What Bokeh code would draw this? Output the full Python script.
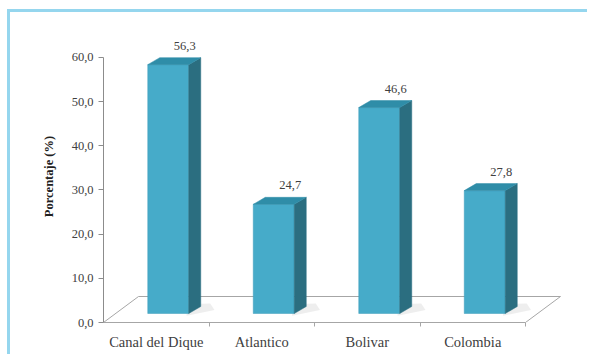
import numpy as np
from bokeh.plotting import figure
from bokeh.models import FixedTicker
from bokeh.embed import file_html
from bokeh.resources import INLINE
from bokeh.core.properties import value

# ---- data ----
categories = ["Canal del Dique", "Atlantico", "Bolivar", "Colombia"]
values = [56.3, 24.7, 46.6, 27.8]
value_labels = ["56,3", "24,7", "46,6", "27,8"]
y_ticks = [0, 10, 20, 30, 40, 50, 60]
y_tick_labels = ["0,0", "10,0", "20,0", "30,0", "40,0", "50,0", "60,0"]

# ---- 3D geometry (in data units) ----
PX_X = 105.5
PX_Y = 4.42
ox, oy = 12 / PX_X, 9 / PX_Y        # bar front offset into depth
bw = 41 / PX_X                        # bar width
ddx, ddy = 12 / PX_X, 7 / PX_Y        # bar depth
fdx, fdy = 35 / PX_X, 26 / PX_Y       # floor depth

FONT = "Liberation Serif"
TXT = "#404040"

n = len(categories)
centers = np.arange(1, n + 1, dtype=float)
vals = np.array(values)

p = figure(width=580, height=345, output_backend="svg", toolbar_location=None,
           x_range=(0.5, 0.5 + 472 / PX_X), y_range=(0, 292 / PX_Y),
           min_border_left=93, min_border_right=15, min_border_top=18, min_border_bottom=35)
p.styles = {"border-top": "3px solid #95D6EE", "border-left": "3px solid #95D6EE",
            "margin-left": "7px", "margin-top": "9px"}
p.background_fill_color = "white"
p.border_fill_color = "white"
p.outline_line_color = None
p.grid.visible = False

# floor
p.patch([0.5, 0.5 + n, 0.5 + n + fdx, 0.5 + fdx], [0, 0, fdy, fdy],
        fill_color="white", line_color="#A6A6A6", line_width=1)

left = centers - bw / 2 + ox
right = centers + bw / 2 + ox
bottom = np.full(n, oy)
top = oy + vals

# soft shadows
p.patches([[r - 0.02, r + ddx + 0.13, r + ddx + 0.09, r - 0.02] for r in right],
          [[oy - 0.5, oy + ddy * 0.5, oy + ddy + 0.7, oy + ddy + 0.5] for _ in right],
          fill_color="#C8C8C8", fill_alpha=0.3, line_color=None)

# front faces
p.quad(left=left, right=right, bottom=bottom, top=top,
       fill_color="#46ABC9", line_color="#3E9DBA", line_width=0.5)
# side faces
p.patches([[r, r + ddx, r + ddx, r] for r in right],
          [[oy, oy + ddy, t + ddy, t] for t in top],
          fill_color="#2B6E80", line_color="#2B6E80", line_width=0.5)
# top faces
p.patches([[l, r, r + ddx, l + ddx] for l, r in zip(left, right)],
          [[t, t, t + ddy, t + ddy] for t in top],
          fill_color="#2F8DA8", line_color="#2F8DA8", line_width=0.5)

# value labels
p.text(x=centers + 0.27, y=top + ddy, text=value_labels,
       text_align="center", text_baseline="bottom", y_offset=-8,
       text_font=value(FONT), text_font_size="12.5px", text_color=TXT)

# y axis
ya = p.yaxis[0]
ya.ticker = FixedTicker(ticks=y_ticks, minor_ticks=[])
ya.major_label_overrides = {t: s for t, s in zip(y_ticks, y_tick_labels)}
ya.bounds = (0, 60)
ya.axis_line_color = "#8C8C8C"
ya.major_tick_line_color = "#8C8C8C"
ya.major_tick_out = 5
ya.major_tick_in = 0
ya.major_label_standoff = 5
ya.major_label_text_font = FONT
ya.major_label_text_font_size = "12.5px"
ya.major_label_text_color = TXT
ya.axis_label = "Porcentaje (%)"
ya.axis_label_text_font = FONT
ya.axis_label_text_font_style = "bold"
ya.axis_label_text_font_size = "12.5px"
ya.axis_label_text_color = "#202020"
ya.axis_label_standoff = 13

# x axis
xa = p.xaxis[0]
xa.ticker = FixedTicker(ticks=list(centers), minor_ticks=list(centers + 0.5))
xa.major_label_overrides = {int(c): s for c, s in zip(centers, categories)}
xa.bounds = (0.5, 0.5 + n)
xa.axis_line_color = "#A6A6A6"
xa.major_tick_out = 0
xa.major_tick_in = 0
xa.minor_tick_out = 4
xa.minor_tick_in = 0
xa.minor_tick_line_color = "#A6A6A6"
xa.major_label_standoff = 7
xa.major_label_text_font = FONT
xa.major_label_text_font_size = "14.5px"
xa.major_label_text_color = TXT

open("out.html", "w").write(file_html(p, INLINE))
